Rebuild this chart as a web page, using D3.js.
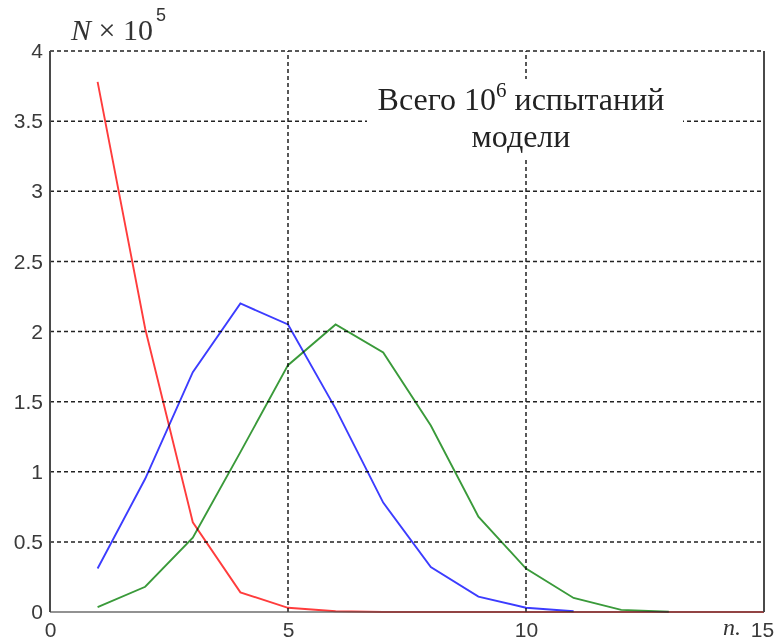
<!DOCTYPE html>
<html>
<head>
<meta charset="utf-8">
<script src="https://cdn.jsdelivr.net/npm/d3@7"></script>
<style>
  body { margin: 0; background: #fff; }
  svg { display: block; }
</style>
</head>
<body>
<div id="chart"></div>
<script>
// values in units of 10^5, n = 1, 2, 3 ...
const redN = [1, 2, 3, 4, 5, 6, 7, 8, 9, 10, 11, 12, 13, 14, 15];
const redValues = [3.78, 2.02, 0.64, 0.14, 0.03, 0.005, 0, 0, 0, 0, 0, 0, 0, 0, 0];
const blueN = [1, 2, 3, 4, 5, 6, 7, 8, 9, 10, 11];
const blueValues = [0.31, 0.95, 1.71, 2.2, 2.05, 1.45, 0.78, 0.32, 0.11, 0.03, 0.005];
const greenN = [1, 2, 3, 4, 5, 6, 7, 8, 9, 10, 11, 12, 13];
const greenValues = [0.035, 0.18, 0.53, 1.14, 1.76, 2.05, 1.85, 1.33, 0.68, 0.31, 0.1, 0.015, 0.002];
const xTicks = [0, 5, 10, 15];
const yTicks = [0, 0.5, 1, 1.5, 2, 2.5, 3, 3.5, 4];

const W = 777, H = 642;
const m = { left: 50, right: 13, top: 51, bottom: 30 };

const svg = d3.select("#chart").append("svg")
  .attr("width", W).attr("height", H);

const x = d3.scaleLinear().domain([0, 15]).range([m.left, W - m.right]);
const y = d3.scaleLinear().domain([0, 4]).range([H - m.bottom, m.top]);

// grid
const grid = svg.append("g").attr("stroke", "#222").attr("stroke-width", 1.5)
  .attr("stroke-dasharray", "4,3");
grid.selectAll(".gy").data(yTicks.filter(d => d > 0)).enter().append("line")
  .attr("x1", x(0)).attr("x2", x(15))
  .attr("y1", d => y(d)).attr("y2", d => y(d));
grid.selectAll(".gx").data(xTicks.filter(d => d > 0 && d < 15)).enter().append("line")
  .attr("y1", y(0)).attr("y2", y(4))
  .attr("x1", d => x(d)).attr("x2", d => x(d));

// annotation box hides the grid behind the text
const box = svg.append("g");
box.append("rect").attr("x", 367).attr("y", 79).attr("width", 316).attr("height", 81)
  .attr("fill", "#fff");
const t1 = box.append("text")
  .attr("x", 521).attr("y", 110).attr("text-anchor", "middle")
  .attr("font-family", "'Liberation Serif', 'Times New Roman', serif")
  .attr("font-size", 32).attr("fill", "#222");
t1.append("tspan").text("Всего 10");
t1.append("tspan").attr("dy", -13).attr("font-size", 21).text("6");
t1.append("tspan").attr("dy", 13).text(" испытаний");
box.append("text")
  .attr("x", 521).attr("y", 147).attr("text-anchor", "middle")
  .attr("font-family", "'Liberation Serif', 'Times New Roman', serif")
  .attr("font-size", 32).attr("fill", "#222").text("модели");

// lines
const line = d3.line().x(d => x(d[0])).y(d => y(d[1]));
const series = [
  { n: greenN, v: greenValues, color: "#3a9a3a" },
  { n: blueN, v: blueValues, color: "#3c3cff" },
  { n: redN, v: redValues, color: "#ff3c3c" }
];
series.forEach(s => {
  svg.append("path")
    .datum(s.n.map((n, i) => [n, s.v[i]]))
    .attr("fill", "none")
    .attr("stroke", s.color)
    .attr("stroke-width", 1.9)
    .style("mix-blend-mode", "multiply")
    .attr("d", line);
});

// axes
const axisColor = "#4a4a4a";
svg.append("line").attr("x1", x(0)).attr("x2", x(0)).attr("y1", y(0)).attr("y2", y(4))
  .attr("stroke", axisColor).attr("stroke-width", 2);
svg.append("line").attr("x1", x(15)).attr("x2", x(15)).attr("y1", y(0)).attr("y2", y(4))
  .attr("stroke", axisColor).attr("stroke-width", 2);
svg.append("line").attr("x1", x(0)).attr("x2", x(15)).attr("y1", y(0)).attr("y2", y(0))
  .attr("stroke", axisColor).attr("stroke-width", 2).attr("stroke-opacity", 0.6);

const xAxis = svg.append("g").attr("transform", `translate(0,${y(0)})`)
  .call(d3.axisBottom(x).tickValues(xTicks).tickSize(0).tickPadding(10).tickFormat(d3.format("")));
const yAxis = svg.append("g").attr("transform", `translate(${x(0)},0)`)
  .call(d3.axisLeft(y).tickValues(yTicks).tickSize(0).tickPadding(7).tickFormat(d => String(d)));
[xAxis, yAxis].forEach(a => {
  a.select(".domain").remove();
  a.selectAll("text")
    .attr("font-family", "'Liberation Sans', Arial, sans-serif")
    .attr("font-size", 21).attr("fill", "#3a3a3a");
});
xAxis.selectAll("text").filter(d => d === 15).attr("dx", -2);

// axis titles
const yl = svg.append("text").attr("x", 71).attr("y", 40)
  .attr("font-family", "'Liberation Serif', 'Times New Roman', serif")
  .attr("font-size", 30).attr("fill", "#333");
yl.append("tspan").attr("font-style", "italic").text("N");
yl.append("tspan").text(" × 10");
svg.append("text").attr("x", 156).attr("y", 21)
  .attr("font-family", "'Liberation Sans', Arial, sans-serif")
  .attr("font-size", 18).attr("fill", "#333").text("5");

svg.append("text").attr("x", 723).attr("y", 635)
  .attr("font-family", "'Liberation Serif', 'Times New Roman', serif")
  .attr("font-style", "italic").attr("font-size", 24).attr("fill", "#333").text("n.");
</script>
</body>
</html>
